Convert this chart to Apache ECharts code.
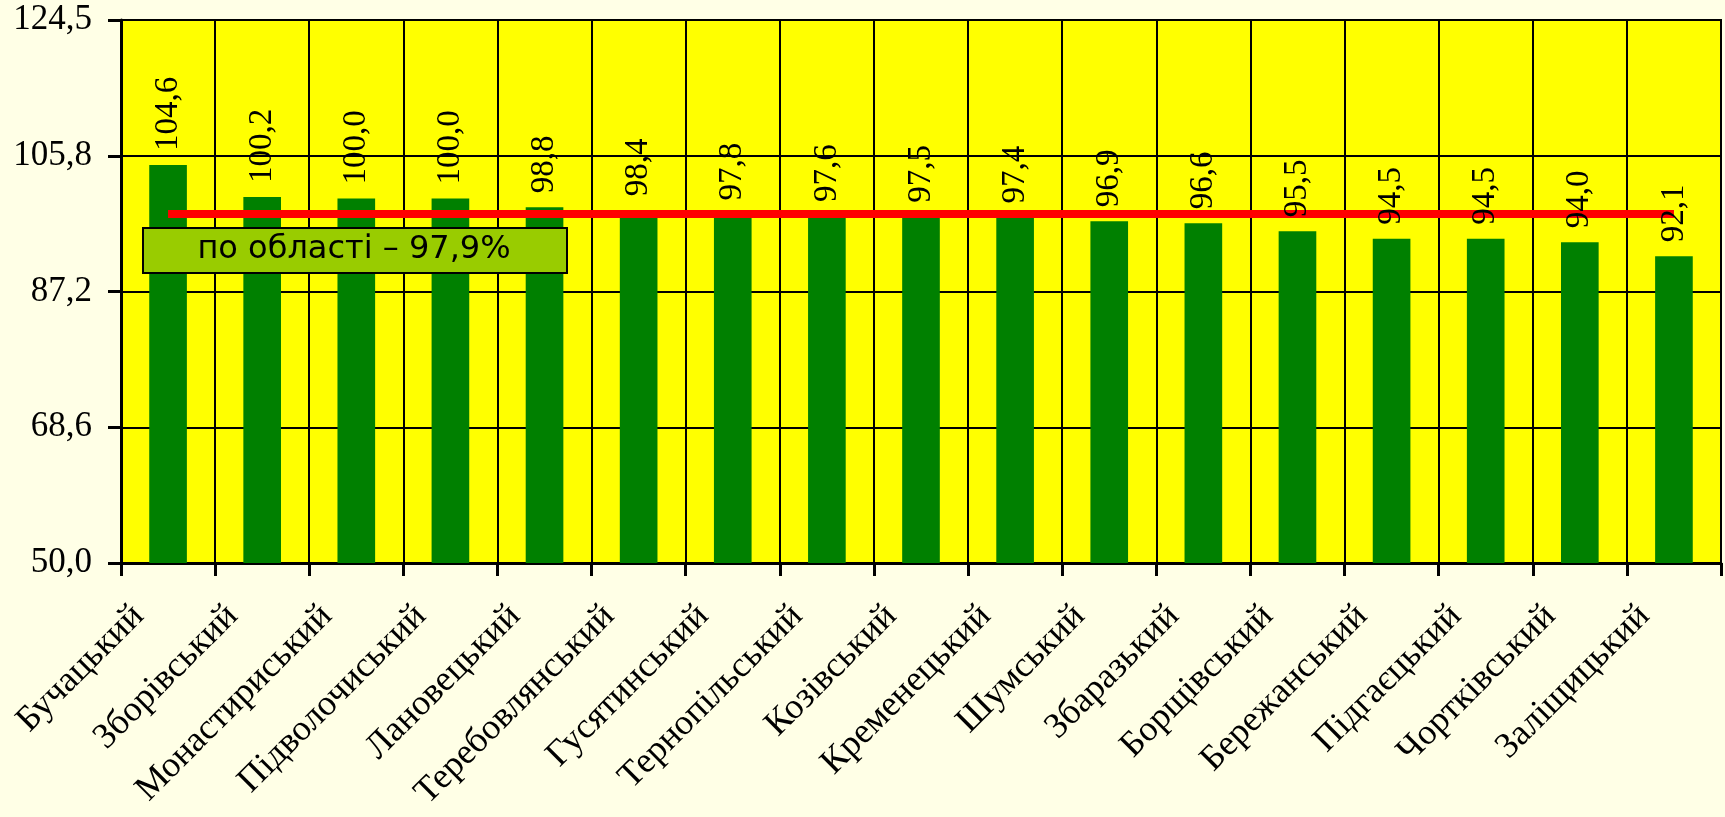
<!DOCTYPE html>
<html>
<head>
<meta charset="utf-8">
<script src="https://cdn.jsdelivr.net/npm/echarts@6/dist/echarts.min.js"></script>
<style>
html,body{margin:0;padding:0;background:#FFFFE6;}
#c{width:1725px;height:817px;}
</style>
</head>
<body>
<div id="c"></div>
<script>
var categories = ['Бучацький','Зборівський','Монастириський','Підволочиський','Лановецький','Теребовлянський','Гусятинський','Тернопільський','Козівський','Кременецький','Шумський','Збаразький','Борщівський','Бережанський','Підгаєцький','Чортківський','Заліщицький'];
var values = [104.6, 100.2, 100.0, 100.0, 98.8, 98.4, 97.8, 97.6, 97.5, 97.4, 96.9, 96.6, 95.5, 94.5, 94.5, 94.0, 92.1];
var regionAvg = [97.9, 97.9, 97.9, 97.9, 97.9, 97.9, 97.9, 97.9, 97.9, 97.9, 97.9, 97.9, 97.9, 97.9, 97.9, 97.9, 97.9];
var avgLabel = 'по області – 97,9%';
var yTickLabels = ['50,0', '68,6', '87,2', '105,8', '124,5'];
var yMin = 50.0, yMax = 124.5, yStep = 18.625;

function fmt(v){ return Number(v).toFixed(1).replace('.', ','); }

var chart = echarts.init(document.getElementById('c'));
var serif = 'Liberation Serif';
chart.setOption({
  backgroundColor: '#FFFFE6',
  animation: false,
  textStyle: {fontFamily: serif},
  grid: {left: 121, right: 4, top: 20, bottom: 254, show: true, backgroundColor: '#FFFF00', borderColor: '#000', borderWidth: 2},
  xAxis: {
    type: 'category', data: categories, boundaryGap: true,
    axisLine: {lineStyle: {color: '#000', width: 3}},
    axisTick: {show: true, length: 13, lineStyle: {color: '#000', width: 3}},
    splitLine: {show: true, lineStyle: {color: '#000', width: 2}},
    axisLabel: {rotate: 45, interval: 0, margin: 18, color: '#000', fontFamily: serif, fontSize: 36, padding: [0, 42, 0, 0]}
  },
  yAxis: {
    type: 'value', min: yMin, max: yMax, interval: yStep,
    axisLine: {show: true, lineStyle: {color: '#000', width: 3}},
    axisTick: {show: true, length: 13, lineStyle: {color: '#000', width: 3}},
    splitLine: {show: true, lineStyle: {color: '#000', width: 2}},
    axisLabel: {margin: 29, color: '#000', fontFamily: serif, fontSize: 35,
      formatter: function(v, i){ return yTickLabels[i] !== undefined ? yTickLabels[i] : fmt(v); }}
  },
  series: [
    {type: 'bar', data: values, barWidth: '40%', itemStyle: {color: '#008000'}, z: 2},
    {type: 'line', data: regionAvg, symbol: 'none', lineStyle: {color: '#FF0000', width: 8}, z: 3},
    {type: 'bar', data: values, barWidth: '40%', barGap: '-100%', itemStyle: {color: 'rgba(0,0,0,0)'}, z: 5,
     label: {show: true, position: 'top', rotate: 90, align: 'left', verticalAlign: 'middle', distance: 14,
             color: '#000', fontFamily: serif, fontStyle: 'normal', fontWeight: 'normal', fontSize: 33,
             formatter: function(p){ return fmt(p.value); }}}
  ],
  graphic: [
    {type: 'rect', left: 142, top: 227, z: 100, shape: {width: 424, height: 45}, style: {fill: '#99CC00', stroke: '#000', lineWidth: 2}},
    {type: 'text', z: 101, x: 354, y: 250, style: {text: avgLabel, fill: '#000', font: '32px "DejaVu Sans"', textAlign: 'center', textVerticalAlign: 'middle'}}
  ]
});
</script>
</body>
</html>
